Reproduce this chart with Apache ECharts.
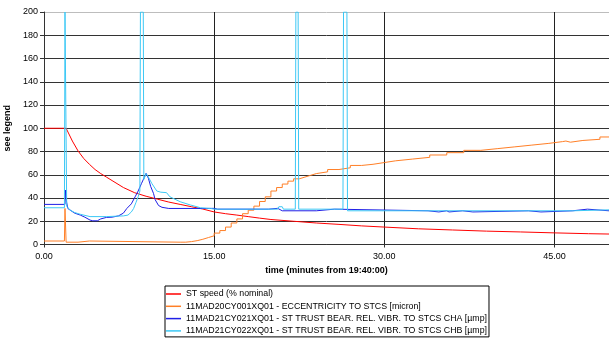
<!DOCTYPE html>
<html>
<head>
<meta charset="utf-8">
<script src="https://cdn.jsdelivr.net/npm/echarts@6/dist/echarts.min.js"></script>
<style>
html,body{margin:0;padding:0;background:#fff;}
#c{width:609px;height:338px;}
</style>
</head>
<body>
<div id="c"></div>
<script>
// ---- data (minutes from 19:40:00) ----
const seriesNames = [
  'ST speed (% nominal)',
  '11MAD20CY001XQ01 - ECCENTRICITY TO STCS [micron]',
  '11MAD21CY021XQ01 - ST TRUST BEAR. REL. VIBR. TO STCS CHA [µmp]',
  '11MAD21CY022XQ01 - ST TRUST BEAR. REL. VIBR. TO STCS CHB [µmp]'
];

const speedTime  = [0, 1.95, 2.5, 3.0, 3.5, 4.0, 4.5, 5.0, 5.5, 6.0, 7, 8, 9, 10, 11, 12, 13, 14, 15, 16, 17, 18, 19, 20, 22, 24, 26, 28, 30, 33, 36, 39, 42, 45, 48, 49.8];
const speedValue = [100, 100, 89, 80.5, 74, 69, 64.5, 61, 58, 55, 49, 44.5, 41.5, 39, 36.5, 34.5, 32.5, 30.5, 28, 26.5, 25.3, 24, 22.7, 21.5, 20, 18.5, 17.3, 16, 15, 13.5, 12.5, 11.5, 10.8, 10, 9.3, 9];

const eccTime  = [0, 1.8, 1.85, 1.95, 3.0, 3.1, 4.0, 4.1, 12.0, 12.5, 13.0, 13.5, 14.0, 14.5, 15.0, 15.5, 16.0, 16.5, 17.0, 17.5, 18.0, 18.5, 19.0, 19.5, 20.0, 20.5, 21.0, 21.5, 22.0, 22.5, 23.0, 23.5, 24.0, 25, 26, 27, 28, 29, 30, 31, 32.5, 34, 35.5, 37, 38.5, 40, 41.5, 43, 44.5, 45.7, 46.0, 46.4, 47.5, 49.0, 49.8];
const eccValue = [3, 3, 31, 2, 2, 3, 3, 2, 2, 2.5, 3.3, 4.5, 6, 7.5, 9.8, 12, 15, 18.5, 22, 26.5, 29.5, 33, 37, 41, 46, 49, 52, 54.5, 56.5, 58, 59.5, 61, 62.5, 64.5, 66, 68, 69, 70.5, 72, 73.5, 75, 77, 79, 81, 82.5, 84, 85.5, 87, 88.5, 89, 88, 89.5, 90.5, 92.5, 92.5];

const chaTime  = [0, 1.85, 1.9, 1.95, 2.0, 2.1, 2.3, 2.7, 3.2, 3.6, 4.06, 4.3, 4.7, 5.0, 5.5, 6.0, 6.56, 7.0, 7.3, 7.7, 8.03, 8.3, 8.6, 9.0, 9.2, 9.4, 9.65, 9.8, 10.1, 10.4, 11.0, 14.0, 14.3, 15.0, 15.3, 19.8, 19.9, 20.6, 21.0, 24.0, 24.05, 25.6, 25.7, 33.85, 33.9, 34.8, 34.85, 35.5, 35.55, 35.7, 35.75, 36.9, 36.95, 37.8, 37.85, 42.7, 42.75, 43.8, 43.85, 46.6, 46.65, 47.9, 47.95, 49.8];
const chaValue = [34.5, 34.5, 46.8, 40, 36, 31, 29.6, 27, 25.3, 23.5, 21, 20.4, 20.4, 22, 23.3, 23.5, 24.6, 27, 31, 35, 41, 46, 52.6, 61.2, 57, 50, 44, 38.5, 33.5, 32, 31, 31, 31, 31.1, 30.4, 30.4, 31.1, 31.1, 29, 29, 30.4, 30.4, 29, 29, 28, 28, 29, 29, 28, 28, 29, 29, 28, 28, 29, 29, 28, 28, 29, 29, 30.4, 30.4, 29, 29];

const chbTime  = [0, 1.8, 1.85, 1.95, 2.0, 2.3, 2.7, 3.2, 4.06, 5.5, 7.0, 7.4, 7.7, 7.9, 8.1, 8.3, 8.45, 8.5, 8.75, 8.8, 9.0, 9.2, 9.5, 9.65, 9.94, 10.3, 10.8, 11.1, 12.0, 12.9, 13.8, 14.7, 15.0, 20.6, 20.7, 21.0, 21.1, 22.15, 22.2, 22.4, 22.45, 26.35, 26.4, 26.7, 26.75, 46.6, 46.65, 49.8];
const chbValue = [31.6, 31.6, 200, 200, 33, 29.6, 27.5, 26, 24, 24, 24.6, 25.3, 28, 31, 36, 41, 46, 200, 200, 56, 61, 58, 52.6, 51.3, 46, 45, 44.6, 41, 36.8, 34, 31.6, 31, 30.4, 30.4, 32.5, 32.5, 30.4, 30.4, 200, 200, 30.4, 30.4, 200, 200, 29, 29, 29.8, 29.8];

const seriesColors = ['#ff0000', '#ff7f27', '#1f1fe6', '#3cc8f5'];

function zip(t, v) { return t.map((x, i) => [x, v[i]]); }

const FONT = '"Liberation Sans", Arial, sans-serif';
const ySplitColors = ['#333','#333','#333','#333','#333','#333','#333','#333','#333','#333','#bdbdbd'];

const chart = echarts.init(document.getElementById('c'), null, {renderer: 'canvas'});
const mk = (i, t, v, extra) => Object.assign({
  name: seriesNames[i], type: 'line', data: zip(t, v), symbol: 'none',
  lineStyle: {width: 1, color: seriesColors[i]}, itemStyle: {color: seriesColors[i]},
  silent: true, clip: true
}, extra || {});

chart.setOption({
  animation: false,
  backgroundColor: '#fff',
  textStyle: {fontFamily: FONT},
  grid: {left: 44, right: 0, top: 12, bottom: 93.5, containLabel: false, outerBoundsMode: 'none'},
  xAxis: {
    type: 'value', min: 0, max: 49.8, interval: 15,
    name: 'time (minutes from 19:40:00)', nameLocation: 'middle', nameGap: 21,
    nameTextStyle: {fontWeight: 'bold', fontSize: 9, color: '#000', fontFamily: FONT},
    axisLine: {show: true, lineStyle: {color: '#333'}},
    axisTick: {show: true, length: 3, lineStyle: {color: '#333'}},
    axisLabel: {fontSize: 9, color: '#000', margin: 8, showMaxLabel: false, fontFamily: FONT,
      formatter: v => (v % 15 === 0 ? v.toFixed(2) : '')},
    splitLine: {show: true, lineStyle: {color: '#222', width: 1}}
  },
  yAxis: {
    type: 'value', min: 0, max: 200, interval: 20,
    name: 'see legend', nameLocation: 'middle', nameGap: 25,
    nameTextStyle: {fontWeight: 'bold', fontSize: 9, color: '#000', fontFamily: FONT},
    axisLine: {show: true, lineStyle: {color: '#333'}},
    axisTick: {show: true, length: 4, lineStyle: {color: '#333'}},
    axisLabel: {fontSize: 9, color: '#000', margin: 6, fontFamily: FONT},
    splitLine: {show: true, lineStyle: {color: ySplitColors, width: 1}}
  },
  legend: {
    orient: 'vertical', left: 165, top: 286,
    padding: [3, 2, 1, 1], itemGap: 2.3, itemWidth: 15, itemHeight: 1.5,
    icon: 'rect',
    borderColor: '#000', borderWidth: 1, backgroundColor: '#fff',
    textStyle: {fontSize: 8.8, color: '#000', fontFamily: FONT, lineHeight: 10},
    data: seriesNames
  },
  series: [
    mk(0, speedTime, speedValue),
    mk(1, eccTime, eccValue, {step: 'end'}),
    mk(2, chaTime, chaValue),
    mk(3, chbTime, chbValue)
  ]
});
</script>
</body>
</html>
